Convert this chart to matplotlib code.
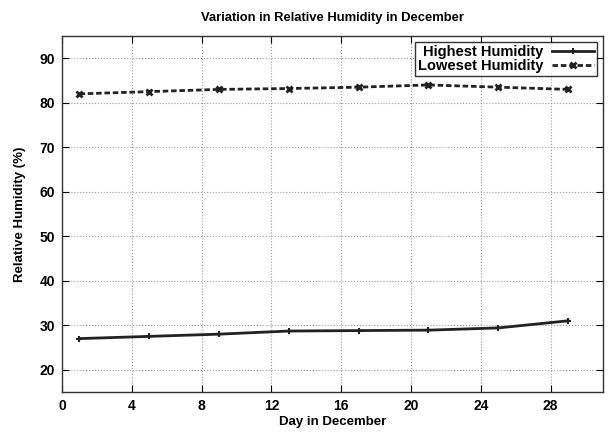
import matplotlib
matplotlib.use("Agg")
import matplotlib.pyplot as plt

plt.rcParams['font.family'] = ['Liberation Sans', 'DejaVu Sans']
plt.rcParams['font.weight'] = 'bold'

days = [1, 5, 9, 13, 17, 21, 25, 29]
highest = [27.0, 27.5, 28.0, 28.7, 28.8, 28.9, 29.4, 31.0]
lowest = [82.0, 82.5, 83.0, 83.2, 83.5, 84.0, 83.5, 83.0]
xticks = [0, 4, 8, 12, 16, 20, 24, 28]
yticks = [20, 30, 40, 50, 60, 70, 80, 90]

fig = plt.figure(figsize=(6.08, 4.32), dpi=100)
ax = fig.add_axes([62/608, 1-392/432, (603-62)/608, (392-36)/432])

ax.plot(days, highest, color='#222222', lw=2, ls='-', marker='+', ms=5, mew=1.5,
        label='Highest Humidity')
ax.plot(days, lowest, color='#222222', lw=2, ls=(0, (2, 1)), marker='x', ms=5, mew=2,
        label='Loweset Humidity')

ax.set_xlim(0, 31)
ax.set_ylim(15, 95)
ax.set_xticks(xticks)
ax.set_yticks(yticks)
ax.grid(True, color='#999999', ls=':', lw=0.8)
ax.tick_params(direction='in', length=5, labelsize=10, width=0.8, top=True, right=True,
               labeltop=False, labelright=False, pad=5)
for s in ax.spines.values():
    s.set_linewidth(1)
    s.set_color('#333333')

ax.set_xlabel('Day in December', fontsize=9.5, fontweight='bold', labelpad=2)
ax.set_ylabel('Relative Humidity (%)', fontsize=9.5, fontweight='bold', labelpad=10)
ax.set_title('Variation in Relative Humidity in December', fontsize=9.4,
             fontweight='bold', pad=11)

leg = ax.legend(loc='upper right', markerfirst=False, fontsize=10.5, frameon=True,
                fancybox=False, edgecolor='black', borderpad=0.2, labelspacing=0.0,
                handlelength=2.9, handletextpad=0.6, borderaxespad=0.4)
leg.get_frame().set_linewidth(1)
for t in leg.get_texts():
    t.set_ha('right')
leg._legend_box.align = 'right'

fig.savefig('out.png', dpi=100)
